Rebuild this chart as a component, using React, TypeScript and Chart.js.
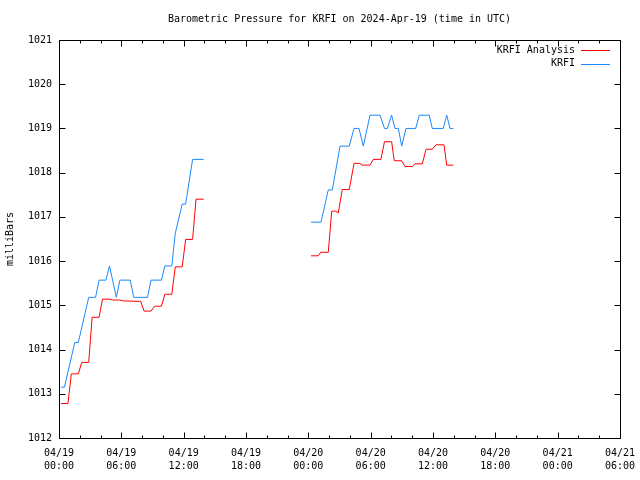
import React, { useEffect, useRef } from "react";
import { Chart, registerables } from "chart.js";

Chart.register(...registerables);

const TITLE = "Barometric Pressure for KRFI on 2024-Apr-19 (time in UTC)";
const Y_LABEL = "milliBars";
const SERIES_NAMES = ["KRFI Analysis", "KRFI"];

// hours since 2024-04-19 00:00 UTC (null = gap)
const redHours = [
  0.19, 0.86, 1.19, 1.86, 2.19, 2.86, 3.19, 3.86, 4.19, 4.86, 5.19, 5.86, 6.19, 7.86,
  8.19, 8.86, 9.19, 9.86, 10.19, 10.86, 11.19, 11.86, 12.19, 12.86, 13.19, 13.93,
  19,
  24.26, 24.96, 25.19, 25.92, 26.25, 26.63, 26.88, 27.27, 27.94, 28.4, 28.97, 29.17,
  29.94, 30.25, 30.99, 31.33, 32.02, 32.27, 32.99, 33.3, 34.01, 34.27, 34.97, 35.33,
  35.93, 36.29, 37.06, 37.32, 37.95,
];
const redPressure = [
  1012.78, 1012.78, 1013.45, 1013.45, 1013.71, 1013.71, 1014.73, 1014.73, 1015.14, 1015.14,
  1015.12, 1015.12, 1015.1, 1015.09,
  1014.87, 1014.87, 1014.98, 1014.98, 1015.25, 1015.25, 1015.87, 1015.87, 1016.49, 1016.49,
  1017.4, 1017.4,
  null,
  1016.12, 1016.12, 1016.2, 1016.2, 1017.13, 1017.13, 1017.09, 1017.62, 1017.62, 1018.21,
  1018.21, 1018.17, 1018.17, 1018.3, 1018.3, 1018.7, 1018.7, 1018.27, 1018.27, 1018.14,
  1018.14, 1018.2, 1018.2, 1018.53, 1018.53, 1018.63, 1018.63, 1018.17, 1018.17,
];

const blueHours = [
  0.19, 0.52, 1.52, 1.86, 2.86, 3.52, 3.86, 4.52, 4.86, 5.52, 5.86, 6.86, 7.19, 8.52,
  8.86, 9.86, 10.19, 10.86, 11.19, 11.86, 12.19, 12.86, 13.93,
  19,
  24.26, 25.22, 25.92, 26.31, 27.05, 27.94, 28.4, 28.88, 29.29, 29.94, 30.9, 31.33,
  31.6, 32.02, 32.34, 32.66, 32.99, 33.4, 34.33, 34.68, 35.64, 35.93, 36.99, 37.32,
  37.64, 37.95,
];
const bluePressure = [
  1013.15, 1013.15, 1014.16, 1014.16, 1015.18, 1015.18, 1015.57, 1015.57, 1015.89, 1015.18,
  1015.57, 1015.57, 1015.18, 1015.18, 1015.57, 1015.57, 1015.89, 1015.89, 1016.63, 1017.29,
  1017.29, 1018.3, 1018.3,
  null,
  1016.88, 1016.88, 1017.61, 1017.61, 1018.6, 1018.6, 1019.0, 1019.0, 1018.6, 1019.3,
  1019.3, 1019.0, 1019.0, 1019.3, 1019.0, 1019.0, 1018.6, 1019.0, 1019.0, 1019.3,
  1019.3, 1019.0, 1019.0, 1019.3, 1019.0, 1019.0,
];

const xTickDates = ["04/19", "04/19", "04/19", "04/19", "04/20", "04/20", "04/20", "04/20", "04/21", "04/21"];
const xTickTimes = ["00:00", "06:00", "12:00", "18:00", "00:00", "06:00", "12:00", "18:00", "00:00", "06:00"];

const X_MIN = 0;
const X_MAX = 54;
const Y_MIN = 1012;
const Y_MAX = 1021;

const RED = "#ff0000";
const BLUE = "#1a88ff";
const FONT = "DejaVu Sans Mono";

function zip(xs: number[], ys: (number | null)[]) {
  return xs.map((x, i) => ({ x, y: ys[i] }));
}

const framePlugin = {
  id: "gnuplotFrame",
  afterDraw(chart: any) {
    const { ctx, chartArea } = chart;
    const { left, right, top, bottom } = chartArea;
    const xs = chart.scales.x;
    const ys = chart.scales.y;
    ctx.save();
    ctx.strokeStyle = "#000";
    ctx.lineWidth = 1;
    const L = Math.round(left) + 0.5;
    const R = Math.round(right) + 0.5;
    const T = Math.round(top) + 0.5;
    const B = Math.round(bottom) + 0.5;
    ctx.beginPath();
    ctx.rect(L, T, R - L, B - T);
    ctx.stroke();
    ctx.beginPath();
    for (let h = X_MIN; h <= X_MAX; h += 2) {
      const px = Math.round(xs.getPixelForValue(h)) + 0.5;
      const len = h % 6 === 0 ? 6 : 3;
      ctx.moveTo(px, B);
      ctx.lineTo(px, B - len);
      ctx.moveTo(px, T);
      ctx.lineTo(px, T + len);
    }
    for (let v = Y_MIN; v <= Y_MAX; v += 1) {
      const py = Math.round(ys.getPixelForValue(v)) + 0.5;
      ctx.moveTo(L, py);
      ctx.lineTo(L + 6, py);
      ctx.moveTo(R, py);
      ctx.lineTo(R - 6, py);
    }
    ctx.stroke();

    ctx.fillStyle = "#000";
    ctx.font = `10px '${FONT}'`;
    ctx.textAlign = "center";
    ctx.textBaseline = "middle";
    ctx.fillText(TITLE, (left + right) / 2, 19);

    ctx.save();
    ctx.translate(10, 239);
    ctx.rotate(-Math.PI / 2);
    ctx.fillText(Y_LABEL, 0, 0);
    ctx.restore();

    ctx.textAlign = "right";
    const keyColors = [RED, BLUE];
    SERIES_NAMES.forEach((name, i) => {
      const y = 50 + i * 13.5;
      ctx.fillStyle = "#000";
      ctx.fillText(name, 575, y);
      ctx.strokeStyle = keyColors[i];
      ctx.beginPath();
      ctx.moveTo(581, Math.round(y) + 0.5);
      ctx.lineTo(610, Math.round(y) + 0.5);
      ctx.stroke();
    });
    ctx.restore();
  },
};

export default function App() {
  const ref = useRef<HTMLCanvasElement | null>(null);

  useEffect(() => {
    if (!ref.current) return;
    Chart.defaults.font.family = FONT;
    Chart.defaults.font.size = 10;
    Chart.defaults.color = "#000";
    const chart = new Chart(ref.current, {
      type: "line",
      data: {
        datasets: [
          {
            label: SERIES_NAMES[0],
            data: zip(redHours, redPressure),
            borderColor: RED,
            borderWidth: 1,
            pointRadius: 0,
            tension: 0,
            spanGaps: false,
            fill: false,
          },
          {
            label: SERIES_NAMES[1],
            data: zip(blueHours, bluePressure),
            borderColor: BLUE,
            borderWidth: 1,
            pointRadius: 0,
            tension: 0,
            spanGaps: false,
            fill: false,
          },
        ],
      },
      options: {
        animation: false,
        responsive: false,
        devicePixelRatio: 1,
        layout: { padding: { top: 40, right: 20, left: 0, bottom: 0 } },
        plugins: {
          legend: { display: false },
          title: { display: false },
          tooltip: { enabled: false },
        },
        scales: {
          x: {
            type: "linear",
            min: X_MIN,
            max: X_MAX,
            grid: { display: false, drawTicks: false },
            border: { display: false },
            ticks: {
              stepSize: 6,
              autoSkip: false,
              maxRotation: 0,
              padding: 9,
              font: { family: FONT, size: 10, lineHeight: 1.3 },
              color: "#000",
              callback: (value: any) => {
                const i = Math.round(Number(value) / 6);
                return [xTickDates[i], xTickTimes[i]];
              },
            },
            afterFit: (scale: any) => {
              scale.height = 42;
              scale.paddingLeft = 0;
              scale.paddingRight = 0;
            },
          },
          y: {
            type: "linear",
            min: Y_MIN,
            max: Y_MAX,
            grid: { display: false, drawTicks: false },
            border: { display: false },
            ticks: {
              stepSize: 1,
              padding: 7,
              font: { family: FONT, size: 10 },
              color: "#000",
              callback: (value: any) => String(value),
            },
            afterFit: (scale: any) => {
              scale.width = 59;
              scale.paddingTop = 0;
              scale.paddingBottom = 0;
            },
          },
        },
      },
      plugins: [framePlugin],
    });
    return () => chart.destroy();
  }, []);

  return (
    <div style={{ position: "absolute", left: 0, top: 0, width: 640, height: 480, background: "#fff" }}>
      <canvas ref={ref} width={640} height={480} style={{ width: 640, height: 480, display: "block" }} />
    </div>
  );
}
